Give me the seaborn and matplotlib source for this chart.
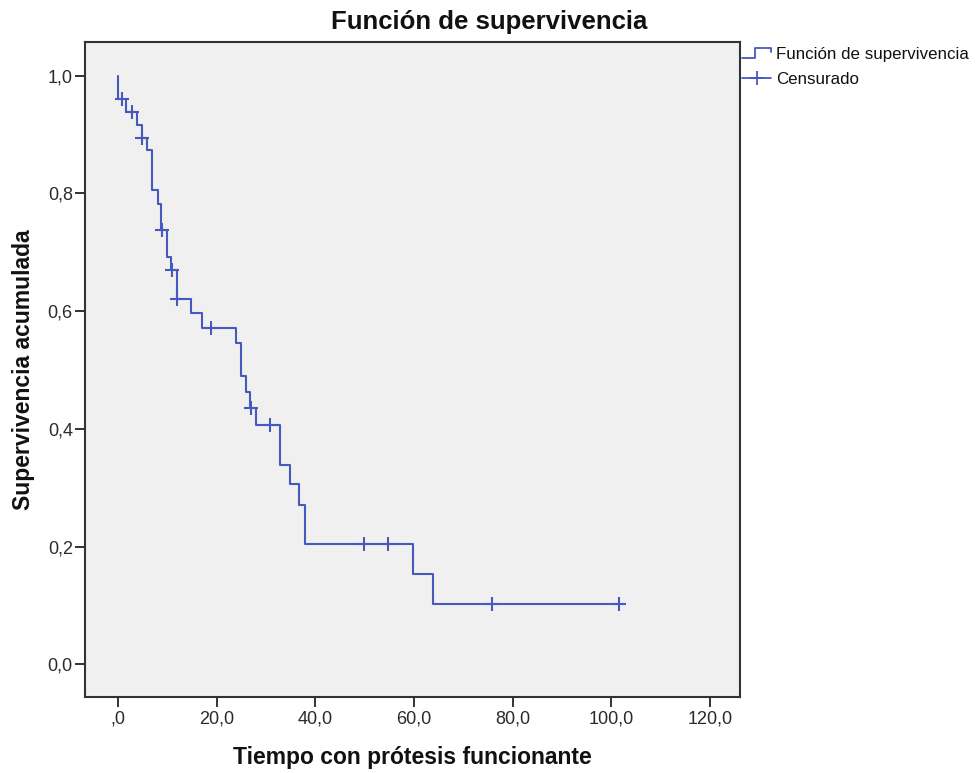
import numpy as np
import pandas as pd
import matplotlib
matplotlib.use("Agg")
import matplotlib.pyplot as plt
import seaborn as sns
from matplotlib.legend_handler import HandlerBase
from matplotlib.lines import Line2D

# ---------------- data ----------------
event_times = [0.0, 1.7, 3.85, 4.85, 6.0, 7.0, 8.1, 8.8, 10.05, 10.8, 11.9, 14.85,
               17.0, 24.0, 24.9, 25.9, 26.8, 28.0, 32.9, 34.9, 36.8, 37.95, 59.8, 63.8]
survival = [0.961, 0.938, 0.916, 0.894, 0.873, 0.806, 0.782, 0.738, 0.691, 0.669,
            0.621, 0.596, 0.571, 0.545, 0.490, 0.462, 0.436, 0.407, 0.339, 0.306,
            0.271, 0.204, 0.153, 0.102]
censor_times = [0.8, 2.95, 4.95, 8.9, 10.9, 12.0, 18.9, 26.9, 30.9, 49.8, 54.7, 75.8, 101.6]
censor_surv = [0.961, 0.938, 0.894, 0.738, 0.669, 0.621, 0.571, 0.436, 0.407, 0.204,
               0.204, 0.102, 0.102]

x_ticks = [0, 20, 40, 60, 80, 100, 120]
x_tick_labels = [",0", "20,0", "40,0", "60,0", "80,0", "100,0", "120,0"]
y_ticks = [0.0, 0.2, 0.4, 0.6, 0.8, 1.0]
y_tick_labels = ["0,0", "0,2", "0,4", "0,6", "0,8", "1,0"]
legend_labels = ["Función de supervivencia", "Censurado"]

title = "Función de supervivencia"
xlabel = "Tiempo con prótesis funcionante"
ylabel = "Supervivencia acumulada"

# ---------------- style ----------------
sns.set_theme(style="white")
plt.rcParams["font.family"] = ["Liberation Sans", "DejaVu Sans"]

line_color = "#4759BD"
axis_color = "#333333"

W, H = 979, 773
fig = plt.figure(figsize=(W / 100, H / 100), dpi=100)
left, right, top, bottom = 85.3, 740.0, 42.0, 696.7
ax = fig.add_axes([left / W, 1 - bottom / H, (right - left) / W, (bottom - top) / H])
ax.set_facecolor("#F0F0F0")

# survival curve (steps)
curve_df = pd.DataFrame({
    "t": [0.0] + event_times + [censor_times[-1]],
    "s": [1.0] + survival + [survival[-1]],
})
sns.lineplot(data=curve_df, x="t", y="s", estimator=None, sort=False,
             drawstyle="steps-post", color=line_color, linewidth=1.5, ax=ax)

# censored marks
cens_df = pd.DataFrame({"t": censor_times, "s": censor_surv})
sns.scatterplot(data=cens_df, x="t", y="s", marker="+", s=100, color=line_color,
                linewidth=1.5, ax=ax, zorder=3)

ax.set_xlim(-6.6, 126.1)
ax.set_ylim(-0.055, 1.057)
ax.set_xticks(x_ticks)
ax.set_xticklabels(x_tick_labels)
ax.set_yticks(y_ticks)
ax.set_yticklabels(y_tick_labels)
ax.tick_params(direction="out", length=7, width=1.4, color=axis_color,
               labelsize=13, labelcolor="#2b2b2b", left=True, bottom=True)
ax.tick_params(axis="x", pad=3)
ax.tick_params(axis="y", pad=2)
for sp in ax.spines.values():
    sp.set_color(axis_color)
    sp.set_linewidth(1.5)

ax.set_xlabel(xlabel, fontsize=16.5, fontweight="bold", labelpad=13, color="#111111")
ax.set_ylabel(ylabel, fontsize=16.5, fontweight="bold", labelpad=9, color="#111111")

fig.text(0.5, 1 - 29.3 / H, title, ha="center", va="baseline", fontsize=18.5,
         fontweight="bold", color="#111111")


# legend with step-shaped handle
class StepHandler(HandlerBase):
    def create_artists(self, legend, orig_handle, xdescent, ydescent, width,
                       height, fontsize, trans):
        x0 = -xdescent
        y_lo = -ydescent + height * 0.1
        y_hi = -ydescent + height * 0.95
        xs = [x0, x0 + 0.45 * width, x0 + 0.45 * width, x0 + width, x0 + width]
        ys = [y_lo, y_lo, y_hi, y_hi, y_hi - height * 0.35]
        ln = Line2D(xs, ys, color=orig_handle.get_color(),
                    linewidth=orig_handle.get_linewidth())
        ln.set_transform(trans)
        return [ln]


h_step = Line2D([], [], color=line_color, linewidth=1.3)
h_cens = Line2D([], [], color=line_color, linewidth=1.3, marker="+",
                markersize=10, markeredgewidth=1.3)
leg = ax.legend([h_step, h_cens], legend_labels, loc="upper left",
                bbox_to_anchor=(1.0, 0.995), frameon=False, fontsize=12.2,
                handlelength=1.75, handletextpad=0.3, borderpad=0.0,
                borderaxespad=0.1, labelspacing=0.58, numpoints=1,
                handler_map={h_step: StepHandler()})
for t in leg.get_texts():
    t.set_color("#111111")

fig.savefig("out.png", dpi=100)
